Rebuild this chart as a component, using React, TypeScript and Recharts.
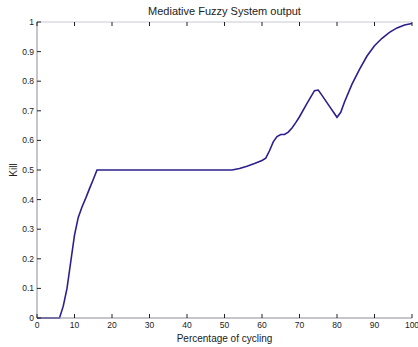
import React from "react";
import { LineChart, Line, XAxis, YAxis, Label } from "recharts";

// Percentage of cycling (x) and Kill output (y)
const cycling = [
  0, 6, 7, 8, 9, 10, 11, 12, 13, 14, 15, 16, 52, 54, 56, 58, 60, 61, 62, 63, 64,
  65, 66, 67, 68, 69, 70, 72, 74, 75, 76, 78, 80, 81, 82, 84, 86, 88, 90, 92, 94,
  96, 98, 100,
];
const kill = [
  0, 0, 0.04, 0.1, 0.19, 0.28, 0.34, 0.375, 0.405, 0.437, 0.468, 0.5, 0.5, 0.505,
  0.513, 0.522, 0.532, 0.54, 0.565, 0.595, 0.613, 0.62, 0.62, 0.628, 0.642, 0.66,
  0.68, 0.725, 0.768, 0.77, 0.752, 0.715, 0.678, 0.695, 0.73, 0.79, 0.84, 0.885,
  0.92, 0.945, 0.965, 0.98, 0.99, 0.995,
];
const xTicks = [0, 10, 20, 30, 40, 50, 60, 70, 80, 90, 100];
const yTicks = [0, 0.1, 0.2, 0.3, 0.4, 0.5, 0.6, 0.7, 0.8, 0.9, 1];

const data = cycling.map((x, i) => ({ x, kill: kill[i] }));

const FONT = "'Liberation Sans', Arial, sans-serif";
const TICK_LEN = 4;
const MARGIN = 2;

const BottomTick = (props: any) => {
  const { x, y, payload } = props;
  const base = y - MARGIN;
  return (
    <g>
      <line x1={x} x2={x} y1={base} y2={base - TICK_LEN} stroke="#222" />
      <text x={x} y={base + 10} textAnchor="middle" fontSize={8.5} fill="#222" fontFamily={FONT}>
        {payload.value}
      </text>
    </g>
  );
};

const LeftTick = (props: any) => {
  const { x, y, payload } = props;
  const base = x + MARGIN;
  return (
    <g>
      <line x1={base} x2={base + TICK_LEN} y1={y} y2={y} stroke="#222" />
      <text x={base - 3} y={y + 3} textAnchor="end" fontSize={8.5} fill="#222" fontFamily={FONT}>
        {payload.value}
      </text>
    </g>
  );
};

const TopTick = (props: any) => {
  const { x, y } = props;
  const base = y + MARGIN;
  return <line x1={x} x2={x} y1={base} y2={base + TICK_LEN} stroke="#222" />;
};

const RightTick = (props: any) => {
  const { x, y } = props;
  const base = x - MARGIN;
  return <line x1={base} x2={base - TICK_LEN} y1={y} y2={y} stroke="#222" />;
};

export default function App() {
  return (
    <div style={{ position: "absolute", left: 0, top: 0, background: "#fff" }}>
      <LineChart width={418} height={347} data={data} margin={{ top: 0, right: 6, bottom: 0, left: 0 }}>
        <XAxis
          dataKey="x"
          type="number"
          domain={[0, 100]}
          ticks={xTicks}
          interval={0}
          height={29}
          tickSize={0}
          tickMargin={MARGIN}
          tick={<BottomTick />}
          axisLine={{ stroke: "#8c8c98" }}
        >
          <Label
            value="Percentage of cycling"
            position="insideBottom"
            offset={5}
            style={{ fontSize: 10, fill: "#222", fontFamily: FONT }}
          />
        </XAxis>
        <XAxis
          xAxisId="top"
          dataKey="x"
          type="number"
          orientation="top"
          domain={[0, 100]}
          ticks={xTicks}
          interval={0}
          height={22}
          tickSize={0}
          tickMargin={MARGIN}
          tick={<TopTick />}
          axisLine={{ stroke: "#c8c8d2" }}
        >
          <Label
            value="Mediative Fuzzy System output"
            position="insideTop"
            offset={7}
            style={{ fontSize: 11, fill: "#222", fontFamily: FONT }}
          />
        </XAxis>
        <YAxis
          type="number"
          domain={[0, 1]}
          ticks={yTicks}
          interval={0}
          width={37}
          tickSize={0}
          tickMargin={MARGIN}
          tick={<LeftTick />}
          axisLine={{ stroke: "#8c8c98" }}
        >
          <Label
            value="Kill"
            angle={-90}
            position="insideLeft"
            offset={13}
            style={{ fontSize: 10, fill: "#222", fontFamily: FONT, textAnchor: "middle" }}
          />
        </YAxis>
        <YAxis
          yAxisId="right"
          type="number"
          orientation="right"
          domain={[0, 1]}
          ticks={yTicks}
          interval={0}
          width={0}
          tickSize={0}
          tickMargin={MARGIN}
          tick={<RightTick />}
          axisLine={{ stroke: "#c8c8d2" }}
        />
        <Line
          type="linear"
          dataKey="kill"
          stroke="#2b1f8f"
          strokeWidth={1.6}
          dot={false}
          isAnimationActive={false}
        />
      </LineChart>
    </div>
  );
}
